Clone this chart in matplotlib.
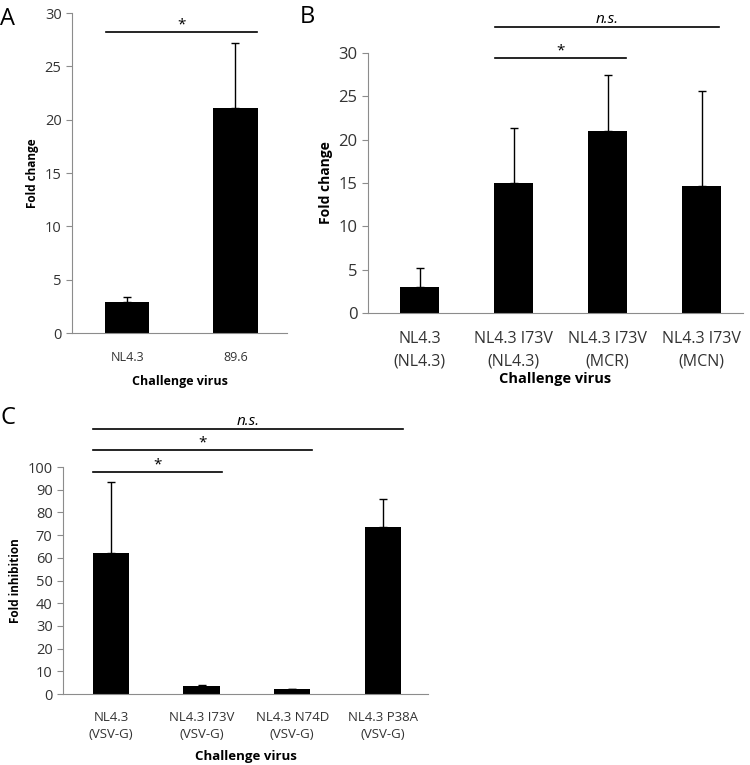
import matplotlib.pyplot as plt

plt.rcParams['font.family'] = ['Open Sans', 'DejaVu Sans']

# panel A
a_labels = ['NL4.3', '89.6']
a_means = [2.9, 21.1]
a_errs = [0.5, 6.1]

# panel B
b_labels = ['NL4.3\n(NL4.3)', 'NL4.3 I73V\n(NL4.3)', 'NL4.3 I73V\n(MCR)', 'NL4.3 I73V\n(MCN)']
b_means = [3.0, 15.0, 21.0, 14.6]
b_errs = [2.2, 6.3, 6.5, 11.0]

# panel C
c_labels = ['NL4.3\n(VSV-G)', 'NL4.3 I73V\n(VSV-G)', 'NL4.3 N74D\n(VSV-G)', 'NL4.3 P38A\n(VSV-G)']
c_means = [62.3, 3.5, 2.0, 73.7]
c_errs = [31.2, 0.5, 0.0, 12.3]

axcol = '#8c8c8c'
txtcol = '#333333'


def style(ax):
    for s in ['top', 'right']:
        ax.spines[s].set_visible(False)
    ax.spines['left'].set_color(axcol)
    ax.spines['bottom'].set_color(axcol)
    ax.tick_params(axis='y', colors=axcol, labelcolor=txtcol, labelsize=10.5, length=4, direction='out')
    ax.tick_params(axis='x', length=0, labelcolor=txtcol, labelsize=9, pad=8)


def bars(ax, means, errs, width):
    x = range(len(means))
    ax.bar(x, means, width=width, color='black', zorder=2)
    ax.errorbar(x, means, yerr=[[0] * len(errs), errs], fmt='none', ecolor='black',
                elinewidth=1, capsize=3, capthick=1, zorder=3)


def sig(ax, x0, x1, y, text, italic=False):
    ax.plot([x0, x1], [y, y], color='black', lw=1.2, clip_on=False)
    ax.text((x0 + x1) / 2, y, text, ha='center', va='bottom', fontsize=11,
            style='italic' if italic else 'normal', clip_on=False)


fig = plt.figure(figsize=(7.5, 7.65), dpi=100)

axA = fig.add_axes([0.096, 0.5647, 0.287, 0.4183])
bars(axA, a_means, a_errs, 0.41)
axA.set_xlim(-0.51, 1.48)
axA.set_ylim(0, 30)
axA.set_yticks(range(0, 31, 5))
axA.set_xticks(range(len(a_labels)))
axA.set_xticklabels(a_labels)
axA.set_ylabel('Fold change', fontsize=8.5, fontweight='bold')
axA.set_xlabel('Challenge virus', fontsize=9, fontweight='bold', labelpad=8)
style(axA)
axA.tick_params(axis='x', pad=13)
sig(axA, -0.2, 1.2, 28.2, '*')
fig.text(0.0, 0.975, 'A', fontsize=17, va='center')

axB = fig.add_axes([0.4907, 0.5908, 0.5, 0.34])
bars(axB, b_means, b_errs, 0.42)
axB.set_xlim(-0.55, 3.44)
axB.set_ylim(0, 30)
axB.set_yticks(range(0, 31, 5))
axB.set_xticks(range(len(b_labels)))
axB.set_xticklabels(b_labels, linespacing=1.5)
axB.set_ylabel('Fold change', fontsize=10, fontweight='bold')
axB.set_xlabel('Challenge virus', fontsize=10.5, fontweight='bold', labelpad=2)
style(axB)
axB.tick_params(axis='y', labelsize=12)
axB.tick_params(axis='x', labelsize=11.5, pad=13)
sig(axB, 0.8, 2.2, 29.4, '*')
sig(axB, 0.8, 3.18, 33.0, 'n.s.', italic=True)
fig.text(0.4, 0.978, 'B', fontsize=17, va='center')

axC = fig.add_axes([0.084, 0.0928, 0.4867, 0.2967])
bars(axC, c_means, c_errs, 0.4)
axC.set_xlim(-0.53, 3.5)
axC.set_ylim(0, 100)
axC.set_yticks(range(0, 101, 10))
axC.set_xticks(range(len(c_labels)))
axC.set_xticklabels(c_labels, linespacing=1.45)
axC.set_ylabel('Fold inhibition', fontsize=8.5, fontweight='bold')
axC.set_xlabel('Challenge virus', fontsize=9.5, fontweight='bold', labelpad=6)
style(axC)
axC.tick_params(axis='y', labelsize=10.5)
axC.tick_params(axis='x', labelsize=9.5, pad=12)
sig(axC, -0.2, 1.22, 97.8, '*')
sig(axC, -0.2, 2.22, 107.5, '*')
sig(axC, -0.2, 3.22, 116.7, 'n.s.', italic=True)
fig.text(0.0, 0.453, 'C', fontsize=17, va='center')

plt.savefig('out.png')
